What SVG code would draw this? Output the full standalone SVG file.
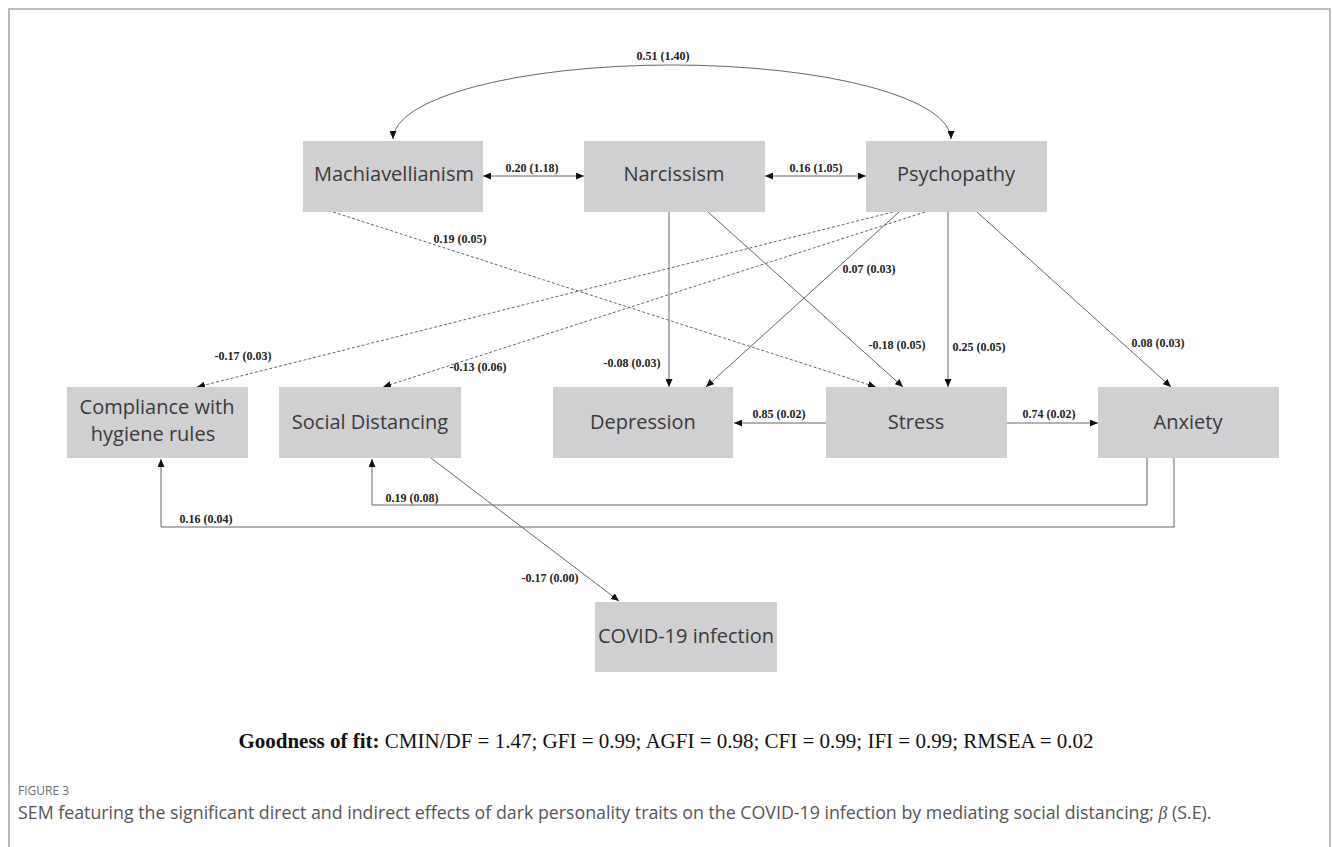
<svg xmlns="http://www.w3.org/2000/svg" width="1333" height="847" viewBox="0 0 1333 847">
<style>
.box{fill:#d0cfd1}
.nt{font-family:"Open Sans","Noto Sans",sans-serif;font-size:20px;fill:#3a3a3a;text-anchor:middle}
.el{font-family:"Liberation Serif","Times New Roman",serif;font-size:12px;font-weight:bold;fill:#222;text-anchor:middle}
.s{fill:none;stroke:#666;stroke-width:1}
.d{fill:none;stroke:#666;stroke-width:1;stroke-dasharray:3 2}
.frame{fill:none;stroke:#a5a5a5;stroke-width:1.5}
</style>
<defs>
<marker id="a" viewBox="0 0 8 7" refX="8" refY="3.5" markerWidth="8" markerHeight="7" markerUnits="userSpaceOnUse" orient="auto-start-reverse">
<path d="M0,0 L8,3.5 L0,7 z" fill="#111"/>
</marker>
</defs>
<rect width="1333" height="847" fill="#fff"/>
<path class="frame" d="M9,847 L9,9 L1330,9 L1330,847"/>

<g id="connectors">
<path class="s" d="M393,139 A279,74 0 0 1 951,139" marker-start="url(#a)" marker-end="url(#a)"/>
<line class="s" x1="483" y1="176" x2="584" y2="176" marker-start="url(#a)" marker-end="url(#a)" stroke="#bbb"/>
<line class="s" x1="765" y1="176" x2="866" y2="176" marker-start="url(#a)" marker-end="url(#a)"/>
<line class="d" x1="333" y1="212" x2="876" y2="387" marker-end="url(#a)"/>
<line class="s" x1="669" y1="212" x2="669" y2="387" marker-end="url(#a)"/>
<line class="s" x1="708" y1="212" x2="903" y2="387" marker-end="url(#a)"/>
<line class="d" x1="893" y1="212" x2="197" y2="387" marker-end="url(#a)"/>
<line class="d" x1="925" y1="212" x2="383" y2="387" marker-end="url(#a)"/>
<line class="s" x1="899" y1="212" x2="706" y2="387" marker-end="url(#a)"/>
<line class="s" x1="948" y1="212" x2="948" y2="387" marker-end="url(#a)"/>
<line class="s" x1="977" y1="212" x2="1171" y2="387" marker-end="url(#a)"/>
<line class="s" x1="826" y1="423" x2="734" y2="423" marker-end="url(#a)" stroke="#aaa"/>
<line class="s" x1="1007" y1="423" x2="1098" y2="423" marker-end="url(#a)" stroke="#aaa"/>
<polyline class="s" points="1147,458 1147,505 372,505 372,459" marker-end="url(#a)"/>
<polyline class="s" points="1174,458 1174,527 161,527 161,459" marker-end="url(#a)"/>
<line class="s" x1="431" y1="458" x2="619" y2="601" marker-end="url(#a)"/>
<text class="el" x="663" y="60">0.51 (1.40)</text>
<text class="el" x="532" y="172">0.20 (1.18)</text>
<text class="el" x="816" y="172">0.16 (1.05)</text>
<text class="el" x="460" y="243">0.19 (0.05)</text>
<text class="el" x="632" y="367">-0.08 (0.03)</text>
<text class="el" x="897" y="349">-0.18 (0.05)</text>
<text class="el" x="243" y="360">-0.17 (0.03)</text>
<text class="el" x="478" y="371">-0.13 (0.06)</text>
<text class="el" x="869" y="273">0.07 (0.03)</text>
<text class="el" x="979" y="351">0.25 (0.05)</text>
<text class="el" x="1158" y="347">0.08 (0.03)</text>
<text class="el" x="779" y="418">0.85 (0.02)</text>
<text class="el" x="1049" y="418">0.74 (0.02)</text>
<text class="el" x="412" y="502">0.19 (0.08)</text>
<text class="el" x="206" y="523">0.16 (0.04)</text>
<text class="el" x="550" y="582">-0.17 (0.00)</text>
</g>

<g id="machiavellianism"><rect class="box" x="303" y="141" width="180" height="71"/><text class="nt" x="394" y="181">Machiavellianism</text></g>
<g id="narcissism"><rect class="box" x="584" y="141" width="181" height="71"/><text class="nt" x="674" y="181">Narcissism</text></g>
<g id="psychopathy"><rect class="box" x="866" y="141" width="181" height="71"/><text class="nt" x="956" y="181">Psychopathy</text></g>
<g id="compliance"><rect class="box" x="67" y="387" width="181" height="71"/><text class="nt" x="157" y="414">Compliance with</text><text class="nt" x="153" y="441">hygiene rules</text></g>
<g id="social-distancing"><rect class="box" x="279" y="387" width="182" height="71"/><text class="nt" x="370" y="429">Social Distancing</text></g>
<g id="depression"><rect class="box" x="553" y="387" width="180" height="71"/><text class="nt" x="643" y="429">Depression</text></g>
<g id="stress"><rect class="box" x="826" y="387" width="181" height="71"/><text class="nt" x="916" y="429">Stress</text></g>
<g id="anxiety"><rect class="box" x="1098" y="387" width="181" height="71"/><text class="nt" x="1188" y="429">Anxiety</text></g>
<g id="covid"><rect class="box" x="595" y="602" width="182" height="70"/><text class="nt" x="686" y="643">COVID-19 infection</text></g>

<text x="666" y="748" font-family="Liberation Serif,Times New Roman,serif" font-size="21" fill="#111" text-anchor="middle"><tspan font-weight="bold">Goodness of fit:</tspan> CMIN/DF = 1.47; GFI = 0.99; AGFI = 0.98; CFI = 0.99; IFI = 0.99; RMSEA = 0.02</text>
<text x="18" y="795" font-family="Open Sans,Noto Sans,sans-serif" font-size="12" fill="#6b6b6b">FIGURE 3</text>
<text x="18" y="819" font-family="Open Sans,Noto Sans,sans-serif" font-size="17.8" fill="#555">SEM featuring the significant direct and indirect effects of dark personality traits on the COVID-19 infection by mediating social distancing; <tspan font-family="Liberation Serif,serif" font-style="italic">β</tspan> (S.E).</text>
</svg>
